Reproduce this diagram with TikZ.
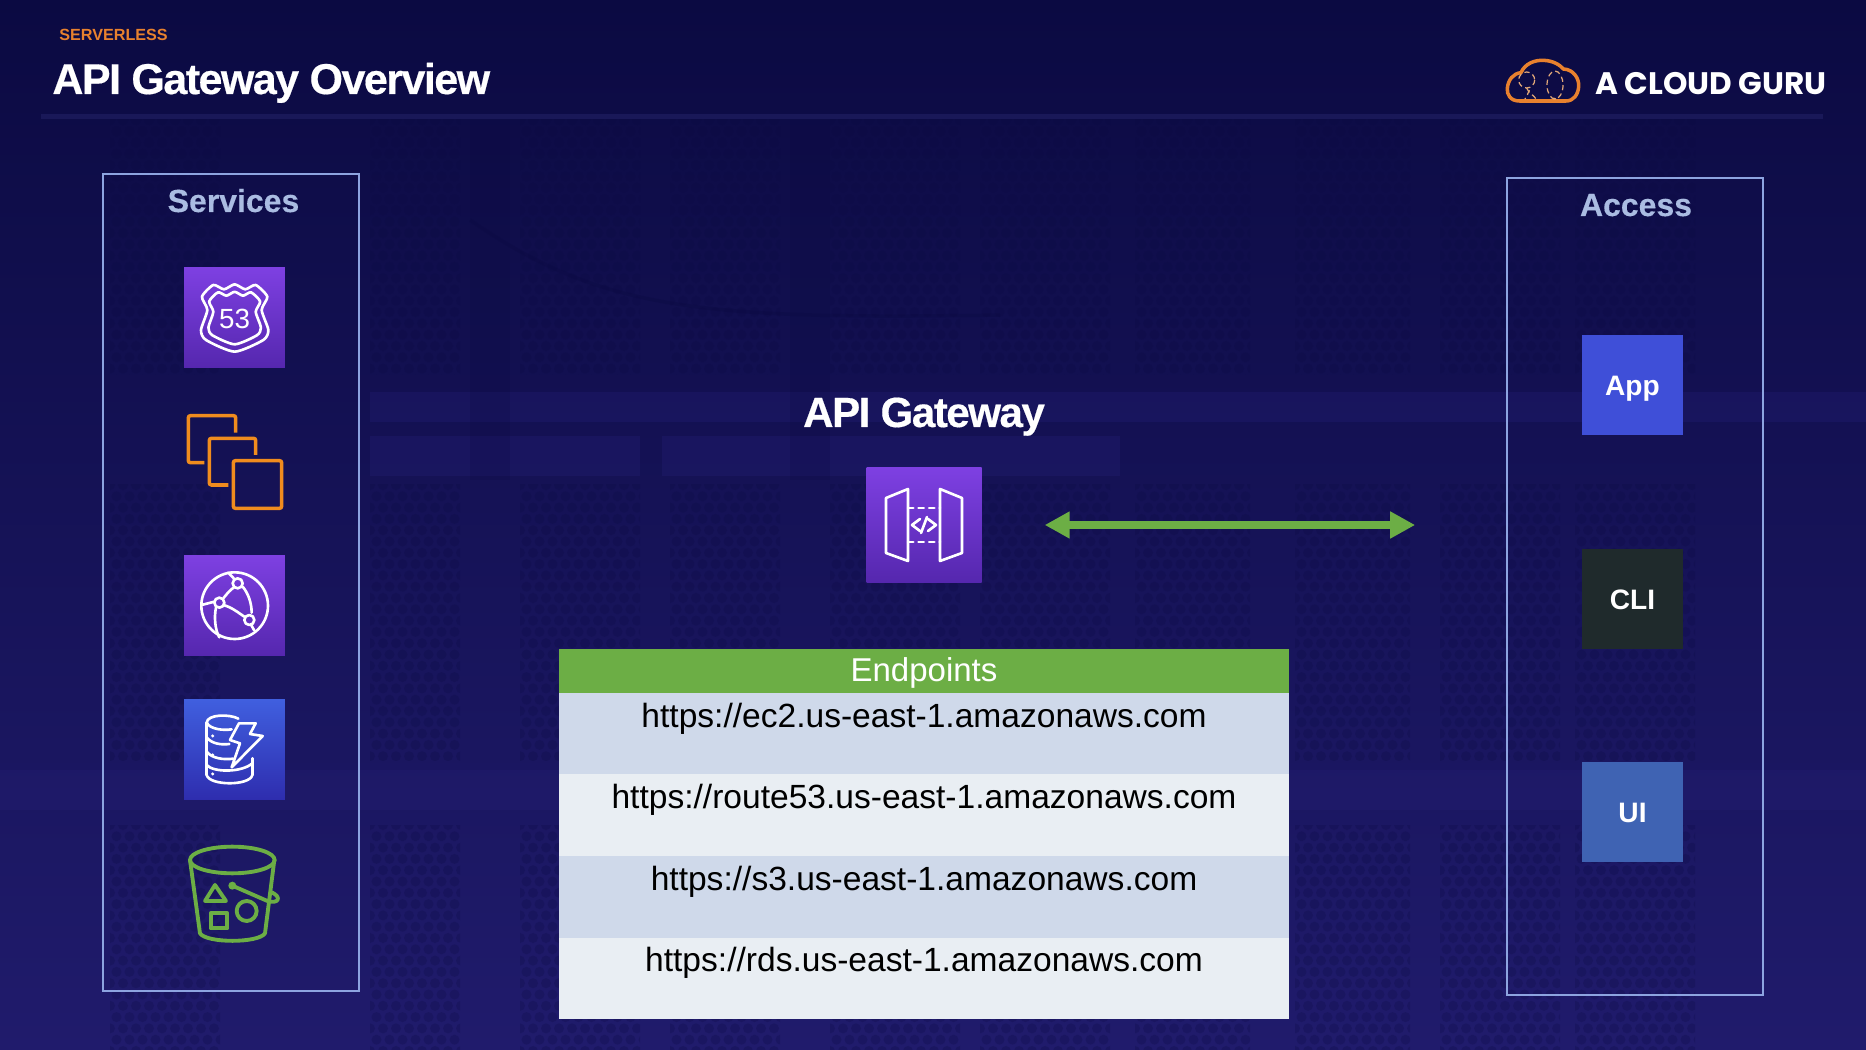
\documentclass[tikz,border=0pt]{standalone}
\usepackage{fontspec}
\setmainfont{Liberation Sans}
\newfontfamily\logofont{Poppins}
\newfontfamily\tightfont{Liberation Sans}[LetterSpace=-3.6, FakeBold=0.4]
\newfontfamily\groupfont{Liberation Sans}[FakeBold=0.3]
\usepackage{xcolor}
\usepackage{tikz}
\usetikzlibrary{positioning, arrows.meta}

\definecolor{bgtop}{HTML}{0B0A42}
\definecolor{bgmid}{HTML}{191662}
\definecolor{bgbot}{HTML}{201B6C}
\definecolor{bandpurple}{HTML}{241E74}
\definecolor{panelline}{HTML}{8DA4E0}
\definecolor{paneltext}{HTML}{AABCE2}
\definecolor{acgorange}{HTML}{E8812E}
\definecolor{ec2orange}{HTML}{F08C1E}
\definecolor{logodash}{HTML}{E2A878}
\definecolor{tablegreen}{HTML}{6CAE45}
\definecolor{rowdark}{HTML}{CFD9EA}
\definecolor{rowlight}{HTML}{E9EEF3}
\definecolor{purplelo}{HTML}{5527AE}
\definecolor{purplehi}{HTML}{7E40E2}
\definecolor{bluelo}{HTML}{2E2DAE}
\definecolor{bluehi}{HTML}{405FDF}
\definecolor{appblue}{HTML}{3F4FD8}
\definecolor{cliblack}{HTML}{1F2A2C}
\definecolor{uiblue}{HTML}{3F63B3}
\definecolor{rulefaint}{HTML}{191858}

\newcommand{\hexpanel}[4]{%
  \begin{scope}
    \clip (#1,#2) rectangle (#3,#4);
    \foreach \holerow in {0,...,25}
      \draw[hexhole] ({#1+mod(\holerow,2)*6.5},{#2+\holerow*11.3}) -- ({#1+160},{#2+\holerow*11.3});
  \end{scope}%
}

\tikzset{
  hexhole/.style={draw=bgtop, draw opacity=0.24, line width=5.7pt, line cap=round, dash pattern=on 0pt off 7.4pt},
  bandfill/.style={fill=bandpurple, fill opacity=0.35},
  groupbox/.style={draw=panelline, line width=1.2pt, inner sep=0pt, minimum width=5.12cm},
  grouptitle/.style={font=\fontsize{18.2}{20}\selectfont\groupfont\bfseries, text=paneltext, anchor=base, inner sep=0pt},
  iconbox/.style={minimum size=2.02cm, inner sep=0pt, shading angle=-25},
  purplebox/.style={iconbox, top color=purplehi, bottom color=purplelo},
  bluebox/.style={iconbox, top color=bluehi, bottom color=bluelo},
  accessbox/.style={minimum size=2.01cm, inner sep=0pt, text=white, text height=11.4pt, text depth=0pt, font=\fontsize{16}{18}\selectfont\bfseries},
  iconline/.style={draw=white, line width=1.5pt, line join=round, line cap=round},
  ec2line/.style={draw=ec2orange, line width=2pt, rounded corners=1.2pt},
  s3line/.style={draw=tablegreen, line width=2.2pt, line join=round},
  rowbox/.style={minimum width=14.6cm, minimum height=1.63cm, inner sep=0pt},
  urltext/.style={anchor=base, inner sep=0pt, text=black, font=\fontsize{19.1}{22}\selectfont},
  logodots/.style={draw=logodash, line width=0.7pt, densely dashed},
}

\begin{document}
\begin{tikzpicture}[x=0.02cm, y=-0.02cm]
\fill[top color=bgtop, middle color=bgmid, bottom color=bgbot] (0,0) rectangle (1866,1050);

\fill[bandfill] (370,392) rectangle (1866,422);
\fill[bandfill] (370,436) rectangle (640,476);
\fill[bandfill] (662,436) rectangle (1120,476);
\fill[bandfill] (0,770) rectangle (1866,810);
\fill[bgtop, fill opacity=0.2] (470,120) rectangle (510,480);
\fill[bgtop, fill opacity=0.2] (790,120) rectangle (830,480);
\foreach \colx/\colw in {110/110, 370/90, 520/120, 670/110, 830/130, 980/130, 1135/115, 1295/115, 1440/120, 1575/120}{
  \hexpanel{\colx}{120}{\colx+\colw}{375}
  \hexpanel{\colx}{485}{\colx+\colw}{760}
  \hexpanel{\colx}{825}{\colx+\colw}{1050}
}
\draw[bgtop, opacity=0.35, line width=2pt] (470,220) .. controls (600,310) and (700,320) .. (1000,315);

\node[font=\fontsize{9.2}{11}\selectfont\bfseries, text=acgorange, anchor=base west, inner sep=0pt] (topiclabel) at (59,41) {SERVERLESS};
\node[font=\fontsize{24.5}{28}\selectfont\tightfont\bfseries, text=white, anchor=base west, inner sep=0pt] (slidetitle) at (52,94) {API Gateway Overview};
\node[fill=rulefaint, minimum width=35.64cm, minimum height=0.1cm, inner sep=0pt] (headrule) at (932,117) {};
\node[font=\fontsize{17.7}{20}\selectfont\logofont\bfseries, text=white, anchor=base west, inner sep=0pt] (logotext) at (1595,95) {A CLOUD GURU};

\begin{scope}[shift={(1460,30)}, scale=1/3]
\draw[acgorange, line width=2pt, line join=round] (178,213) .. controls (150,213) and (140,192) .. (142,175) .. controls (144,150) and (160,130) .. (183,128) .. controls (195,100) and (225,90) .. (250,91) .. controls (280,92) and (300,105) .. (310,117) .. controls (340,118) and (358,145) .. (356,170) .. controls (354,195) and (340,213) .. (318,213) -- cycle;
\draw[logodots] (200,150) circle[radius=24];
\draw[logodots] (285,165) ellipse[x radius=24, y radius=42];
\draw[logodots] (200,174) .. controls (205,190) and (222,195) .. (228,207);
\draw[logodots] (208,180) .. controls (205,190) and (200,198) .. (195,207);
\draw[logodots] (278,207) -- (282,205) -- (288,207);
\end{scope}

\node[groupbox, minimum height=16.34cm] (servicesbox) at (231,582.5) {};
\node[grouptitle] (servicestitle) at (233.5,212) {Services};
\node[groupbox, minimum height=16.34cm] (accessgroup) at (1635,586.5) {};
\node[grouptitle] (accesstitle) at (1636,216) {Access};

\node[purplebox] (r53icon) at (234.5,317.5) {};
\node[purplebox] (cficon) at (234.5,605.5) {};
\node[bluebox] (ddbicon) at (234.5,749.5) {};
\node[purplebox, minimum size=2.3cm] (gwicon) at (924,525) {};

\begin{scope}[shift={(90,160)}, scale=1/3]
\foreach \s in {1,0.78}
  \draw[iconline, shift={(434,475)}, scale=\s] plot[smooth cycle, tension=.4] coordinates {(-64,-100) (-32,-87) (0,-102) (32,-87) (63,-100) (98,-65) (81,-25) (101,35) (86,65) (0,100) (-86,65) (-101,35) (-82,-25) (-98,-65)};
\node[text=white, font=\fontsize{15.8}{18}\selectfont, inner sep=0pt] (r53num) at (434,478) {53};
\draw[ec2line] (430,902) rectangle (575,1045);
\draw[ec2line] (497,885) -- (497,835) -- (358,835) -- (358,975) -- (415,975);
\draw[ec2line] (437,818) -- (437,767) -- (295,767) -- (295,908) -- (343,908);
\end{scope}

\begin{scope}[shift={(90,530)}, scale=1/3]
\draw[iconline] (434,227) circle[radius=100];
\draw[iconline] (443,160) circle[radius=15] (388,218) circle[radius=15] (478,270) circle[radius=15];
\draw[iconline] (378,233) .. controls (372,260) and (375,300) .. (388,322);
\draw[iconline] (335,225) -- (373,215);
\draw[iconline] (400,205) .. controls (412,190) and (420,180) .. (432,172);
\draw[iconline] (403,226) .. controls (425,232) and (445,248) .. (463,260);
\draw[iconline] (458,170) .. controls (475,190) and (485,220) .. (485,248);
\draw[iconline] (415,128) -- (432,146);
\draw[iconline] (483,284) -- (492,300);

\draw[iconline] (350,578) .. controls (352,552) and (420,552) .. (445,566);
\draw[iconline] (350,578) .. controls (360,598) and (400,602) .. (425,598);
\draw[iconline] (350,578) -- (350,735);
\draw[iconline] (350,622) .. controls (365,642) and (395,645) .. (418,642);
\draw[iconline] (350,665) .. controls (365,685) and (400,690) .. (430,686);
\draw[iconline] (350,705) .. controls (370,728) and (455,728) .. (487,700);
\draw[iconline] (350,735) .. controls (358,768) and (480,768) .. (487,735);
\draw[iconline] (487,735) -- (487,685);
\draw[iconline] (447,580) -- (497,580) -- (480,612) -- (518,618) -- (425,712) -- (450,640) -- (420,630) -- cycle;
\fill[white] (368,618) circle[radius=5] (368,675) circle[radius=5] (368,732) circle[radius=5];

\draw[s3line] (427,990) ellipse[x radius=127, y radius=40];
\draw[s3line] (300,990) -- (330,1210) .. controls (350,1240) and (505,1240) .. (525,1210) -- (553,990);
\draw[s3line] (375,1065) -- (345,1113) -- (408,1113) -- cycle;
\draw[s3line] (362,1150) rectangle (412,1195);
\draw[s3line] (470,1143) circle[radius=30];
\fill[tablegreen] (427,1067) circle[radius=12];
\draw[s3line] (427,1067) -- (530,1112) .. controls (565,1125) and (580,1100) .. (540,1085);
\end{scope}

\begin{scope}[shift={(gwicon.center)}]
\draw[iconline] (-38,-27) -- (-16,-36) -- (-16,36) -- (-38,28) -- cycle;
\draw[iconline] (38,-27) -- (16,-36) -- (16,36) -- (38,28) -- cycle;
\draw[iconline, dashed] (-16,-17) -- (16,-17);
\draw[iconline, dashed] (-16,17) -- (16,17);
\draw[iconline] (-4,-6) -- (-12,0) -- (-4,6);
\draw[iconline] (4,-6) -- (12,0) -- (4,6);
\draw[iconline] (-3,8) -- (3,-8);
\end{scope}

\node[font=\fontsize{24}{28}\selectfont\tightfont\bfseries, text=white, anchor=base, inner sep=0pt] (gwtitle) at (924,427) {API Gateway};

\draw[{Triangle[length=14.2pt, width=14.5pt]}-{Triangle[length=14.2pt, width=14.5pt]}, tablegreen, line width=4.5pt, shorten <=35.8pt, shorten >=51.7pt] (gwicon.east) -- (gwicon.east -| accessgroup.west);

\node[accessbox, fill=appblue] (appnode) at (1632.5,385) {App};
\node[accessbox, fill=cliblack] (clinode) at (1632.5,599) {CLI};
\node[accessbox, fill=uiblue] (uinode) at (1632.5,812) {UI};

\node[fill=tablegreen, minimum width=14.6cm, minimum height=0.88cm, inner sep=0pt] (endpointhead) at (924,671) {};
\node[anchor=base, inner sep=0pt, text=white, font=\fontsize{18.8}{22}\selectfont] (endpointtext) at (924,681) {Endpoints};
\node[rowbox, fill=rowdark] (rowec) at (924,733.5) {};
\node[rowbox, fill=rowlight] (rowroute) at (924,815) {};
\node[rowbox, fill=rowdark] (rowstore) at (924,897) {};
\node[rowbox, fill=rowlight] (rowrds) at (924,978.5) {};
\node[urltext] (urlec) at (924,727) {https://ec2.us-east-1.amazonaws.com};
\node[urltext] (urlroute) at (924,808.5) {https://route53.us-east-1.amazonaws.com};
\node[urltext] (urlstore) at (924,890) {https://s3.us-east-1.amazonaws.com};
\node[urltext] (urlrds) at (924,971.5) {https://rds.us-east-1.amazonaws.com};
\end{tikzpicture}
\end{document}
